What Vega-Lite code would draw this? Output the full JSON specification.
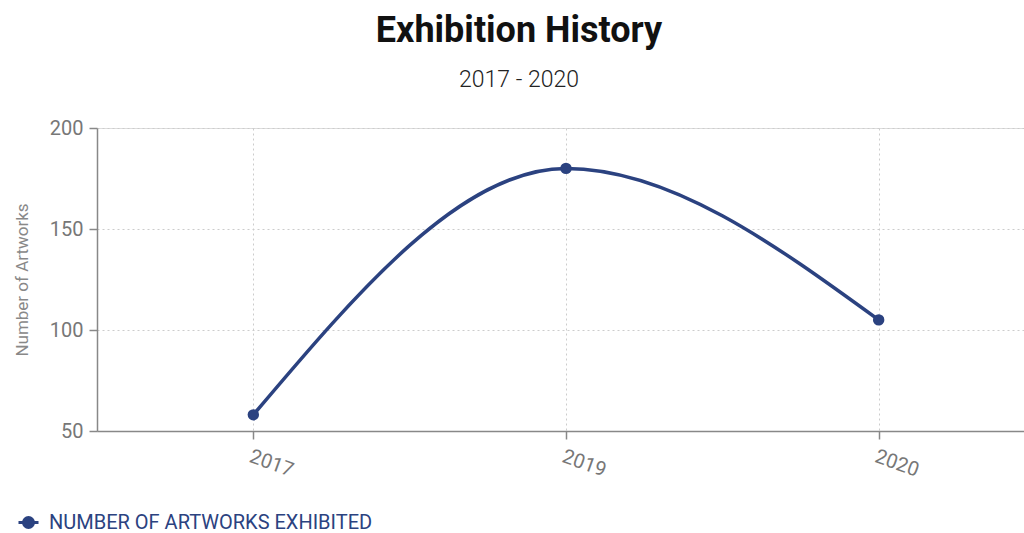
{
  "$schema": "https://vega.github.io/schema/vega-lite/v6.json",
  "autosize": {"type": "none"},
  "padding": {"left": 97, "top": 128, "right": 0, "bottom": 102},
  "width": 938,
  "height": 303,
  "background": "white",
  "title": {
    "text": "Exhibition History",
    "subtitle": "2017 - 2020",
    "anchor": "middle",
    "frame": "group",
    "dx": -47,
    "offset": 25,
    "font": "Roboto",
    "fontSize": 36,
    "fontWeight": "bold",
    "color": "#111111",
    "subtitleFont": "Roboto",
    "subtitleFontSize": 23,
    "subtitleFontWeight": 300,
    "subtitleColor": "#222222",
    "subtitlePadding": 19
  },
  "data": {
    "values": [
      {"year": "2017", "count": 58, "series": "Number of Artworks Exhibited"},
      {"year": "2019", "count": 180, "series": "Number of Artworks Exhibited"},
      {"year": "2020", "count": 105, "series": "Number of Artworks Exhibited"}
    ]
  },
  "encoding": {
    "x": {
      "field": "year",
      "type": "ordinal",
      "scale": {"type": "point", "padding": 0.5},
      "axis": {
        "title": null,
        "labelAngle": 20,
        "labelAlign": "left",
        "labelBaseline": "top",
        "labelFont": "Roboto",
        "labelFontSize": 20,
        "labelColor": "#777777",
        "labelPadding": 7,
        "domainColor": "#888888",
        "domainWidth": 1.5,
        "tickColor": "#888888",
        "tickWidth": 1.5,
        "tickSize": 8,
        "grid": true,
        "gridColor": "#cccccc",
        "gridDash": [2, 3]
      }
    },
    "y": {
      "field": "count",
      "type": "quantitative",
      "scale": {"domain": [50, 200], "nice": false, "zero": false},
      "axis": {
        "title": "Number of Artworks",
        "titleFont": "Roboto",
        "titleFontSize": 17,
        "titleFontWeight": "normal",
        "titleColor": "#888888",
        "titlePadding": 18,
        "values": [50, 100, 150, 200],
        "labelFont": "Roboto",
        "labelFontSize": 20,
        "labelColor": "#777777",
        "labelPadding": 6,
        "domainColor": "#888888",
        "domainWidth": 1.5,
        "tickColor": "#888888",
        "tickWidth": 1.5,
        "tickSize": 8,
        "grid": true,
        "gridColor": "#cccccc",
        "gridDash": [2, 3]
      }
    },
    "color": {
      "field": "series",
      "type": "nominal",
      "scale": {"range": ["#2b4280"]},
      "legend": {
        "title": null,
        "orient": "none",
        "legendX": -80,
        "legendY": 383,
        "labelExpr": "upper(datum.label)",
        "labelFont": "Roboto",
        "labelFontSize": 20,
        "labelLimit": 500,
        "labelOffset": 9,
        "labelColor": "#2b4280",
        "symbolType": "M-1,0H1M-0.5,0A0.5,0.5 0 1,0 0.5,0A0.5,0.5 0 1,0 -0.5,0Z",
        "symbolSize": 400,
        "symbolStrokeWidth": 3,
        "symbolFillColor": "#2b4280",
        "symbolStrokeColor": "#2b4280"
      }
    }
  },
  "layer": [
    {"mark": {"type": "line", "interpolate": "monotone", "strokeWidth": 3.5}},
    {"mark": {"type": "point", "filled": true, "size": 130, "opacity": 1}}
  ]
}
